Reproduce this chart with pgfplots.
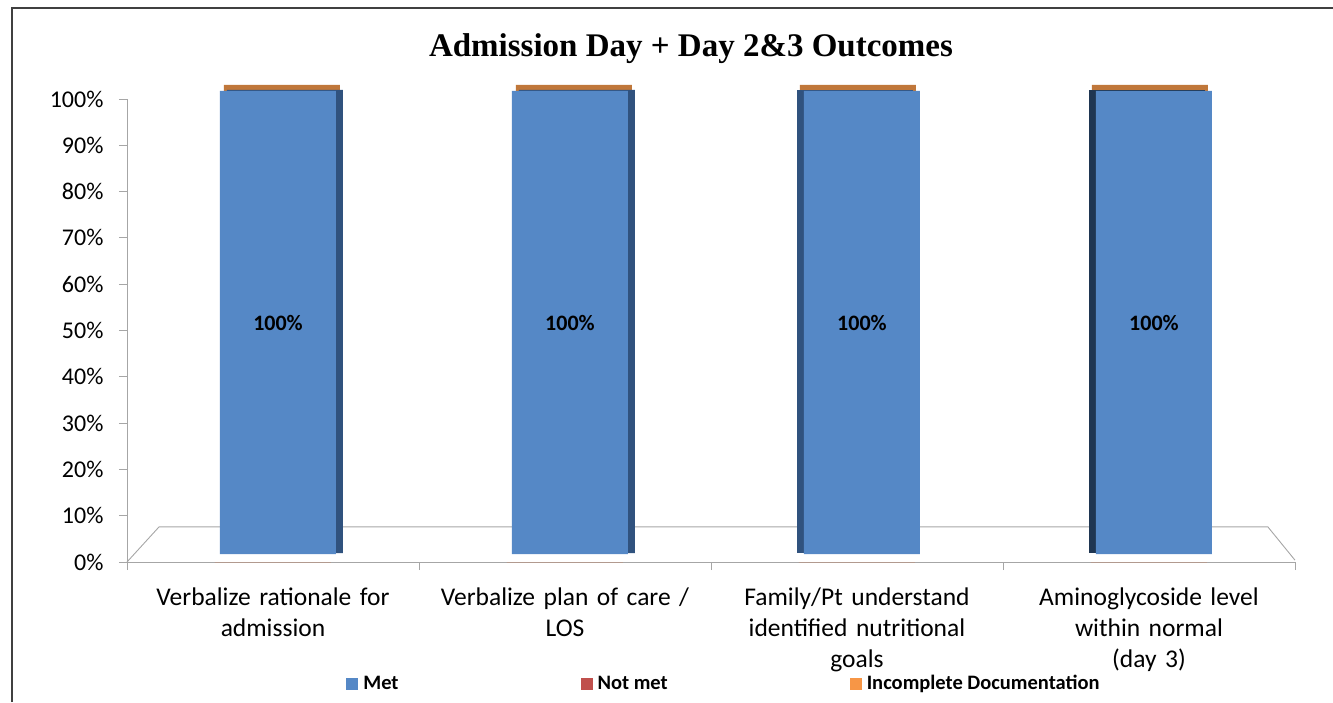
\documentclass[border=0pt]{standalone}
\usepackage{pgfplots}
\pgfplotsset{compat=1.18}
\usepackage{fontspec}
\setmainfont{Carlito}
\newfontfamily\titlefont{Liberation Serif}
\definecolor{met}{HTML}{5588C6}
\definecolor{notmet}{HTML}{C0504D}
\definecolor{incomp}{HTML}{F79646}
\definecolor{topface}{HTML}{C0773A}
\definecolor{side}{HTML}{30527E}
\definecolor{sidedark}{HTML}{1F3652}
\definecolor{axisgray}{HTML}{A6A6A6}
\begin{document}
\begin{tikzpicture}[x=1pt,y=1pt]
\useasboundingbox (0,0) rectangle (1333,702);
\draw[black!75, line width=1.6pt] (12,0) -- (12,694) -- (1333,694);
\node[font=\titlefont\bfseries\fontsize{33}{36}\selectfont] at (691,653) {Admission Day + Day 2\&3 Outcomes};
\begin{axis}[
  at={(127pt,140pt)}, anchor=south west,
  scale only axis, width=1168pt, height=463pt,
  xmin=-0.5, xmax=3.5, ymin=0, ymax=100,
  axis x line*=bottom, axis y line*=left,
  axis line style={axisgray, line width=0.8pt},
  x axis line style={-}, y axis line style={-},
  xtick={-0.5,0.5,1.5,2.5,3.5}, xticklabels={},
  extra x ticks={0,1,2,3},
  extra x tick style={major tick length=0pt, tick style={draw=none}},
  extra x tick labels={{Verbalize rationale for\\admission},{Verbalize plan of care /\\LOS},{Family/Pt understand\\identified nutritional\\goals},{Aminoglycoside level\\within normal\\(day 3)}},
  ytick={0,10,...,100},
  yticklabel={\pgfmathprintnumber{\tick}\%},
  /pgf/number format/assume math mode=true,
  tick style={axisgray, line width=0.8pt},
  major tick length=8pt,
  tick align=outside,
  yticklabel style={font=\fontsize{24}{28}\selectfont, xshift=-12pt},
  xticklabel style={font=\fontsize{25.5}{31}\selectfont, align=center, text width=300pt, yshift=-22pt},
  ybar, bar width=116pt,
  clip=false,
  legend style={at={(0.5,-0.235)}, xshift=13pt, anchor=north, draw=none, fill=none,
    legend columns=3, font=\bfseries\fontsize{20.5}{22}\selectfont,
    nodes={text height=14pt, text depth=5pt},
    /tikz/column 2/.style={column sep=180pt},
    /tikz/column 4/.style={column sep=180pt},
    /tikz/every odd column/.append style={column sep=3pt}},
  legend image code/.code={\fill[#1] (0pt,-5pt) rectangle (12pt,7pt);},
]
% 3D floor
\draw[axisgray, line width=0.9pt] (axis cs:-0.5,0) -- (axis cs:-0.39,7.6) -- (axis cs:3.407,7.6) -- (axis cs:3.5,0.4);
% top faces and side faces (decorative 3D effect)
\addplot[forget plot, fill=topface, draw=none, bar shift=9pt, yshift=14pt] coordinates {(0,100) (1,100)};
\addplot[forget plot, fill=topface, draw=none, bar shift=1pt, yshift=14pt] coordinates {(2,100) (3,100)};
\addplot[forget plot, fill=side, draw=none, bar shift=12pt, yshift=9pt] coordinates {(0,100) (1,100)};
\addplot[forget plot, fill=side, draw=none, bar shift=-2pt, yshift=9pt] coordinates {(2,100)};
\addplot[forget plot, fill=sidedark, draw=none, bar shift=-2pt, yshift=9pt] coordinates {(3,100)};
% Met
\addplot[forget plot, fill=met, draw=none, bar shift=5pt, yshift=8pt,
  nodes near coords={\pgfmathprintnumber{\pgfplotspointmeta}\%},
  every node near coord/.append style={anchor=center, yshift=-232pt, font=\bfseries\fontsize{22}{24}\selectfont, text=black}]
  coordinates {(0,100) (1,100) (2,100) (3,100)};
\addlegendimage{fill=met, draw=none}
\addlegendentry{Met}
% Not met
\addplot[fill=notmet, draw=none, bar shift=0pt] coordinates {(0,0) (1,0) (2,0) (3,0)};
\addlegendentry{Not met}
% Incomplete Documentation
\addplot[fill=incomp, draw=none, bar shift=0pt] coordinates {(0,0) (1,0) (2,0) (3,0)};
\addlegendentry{Incomplete Documentation}
\end{axis}
\end{tikzpicture}
\end{document}
